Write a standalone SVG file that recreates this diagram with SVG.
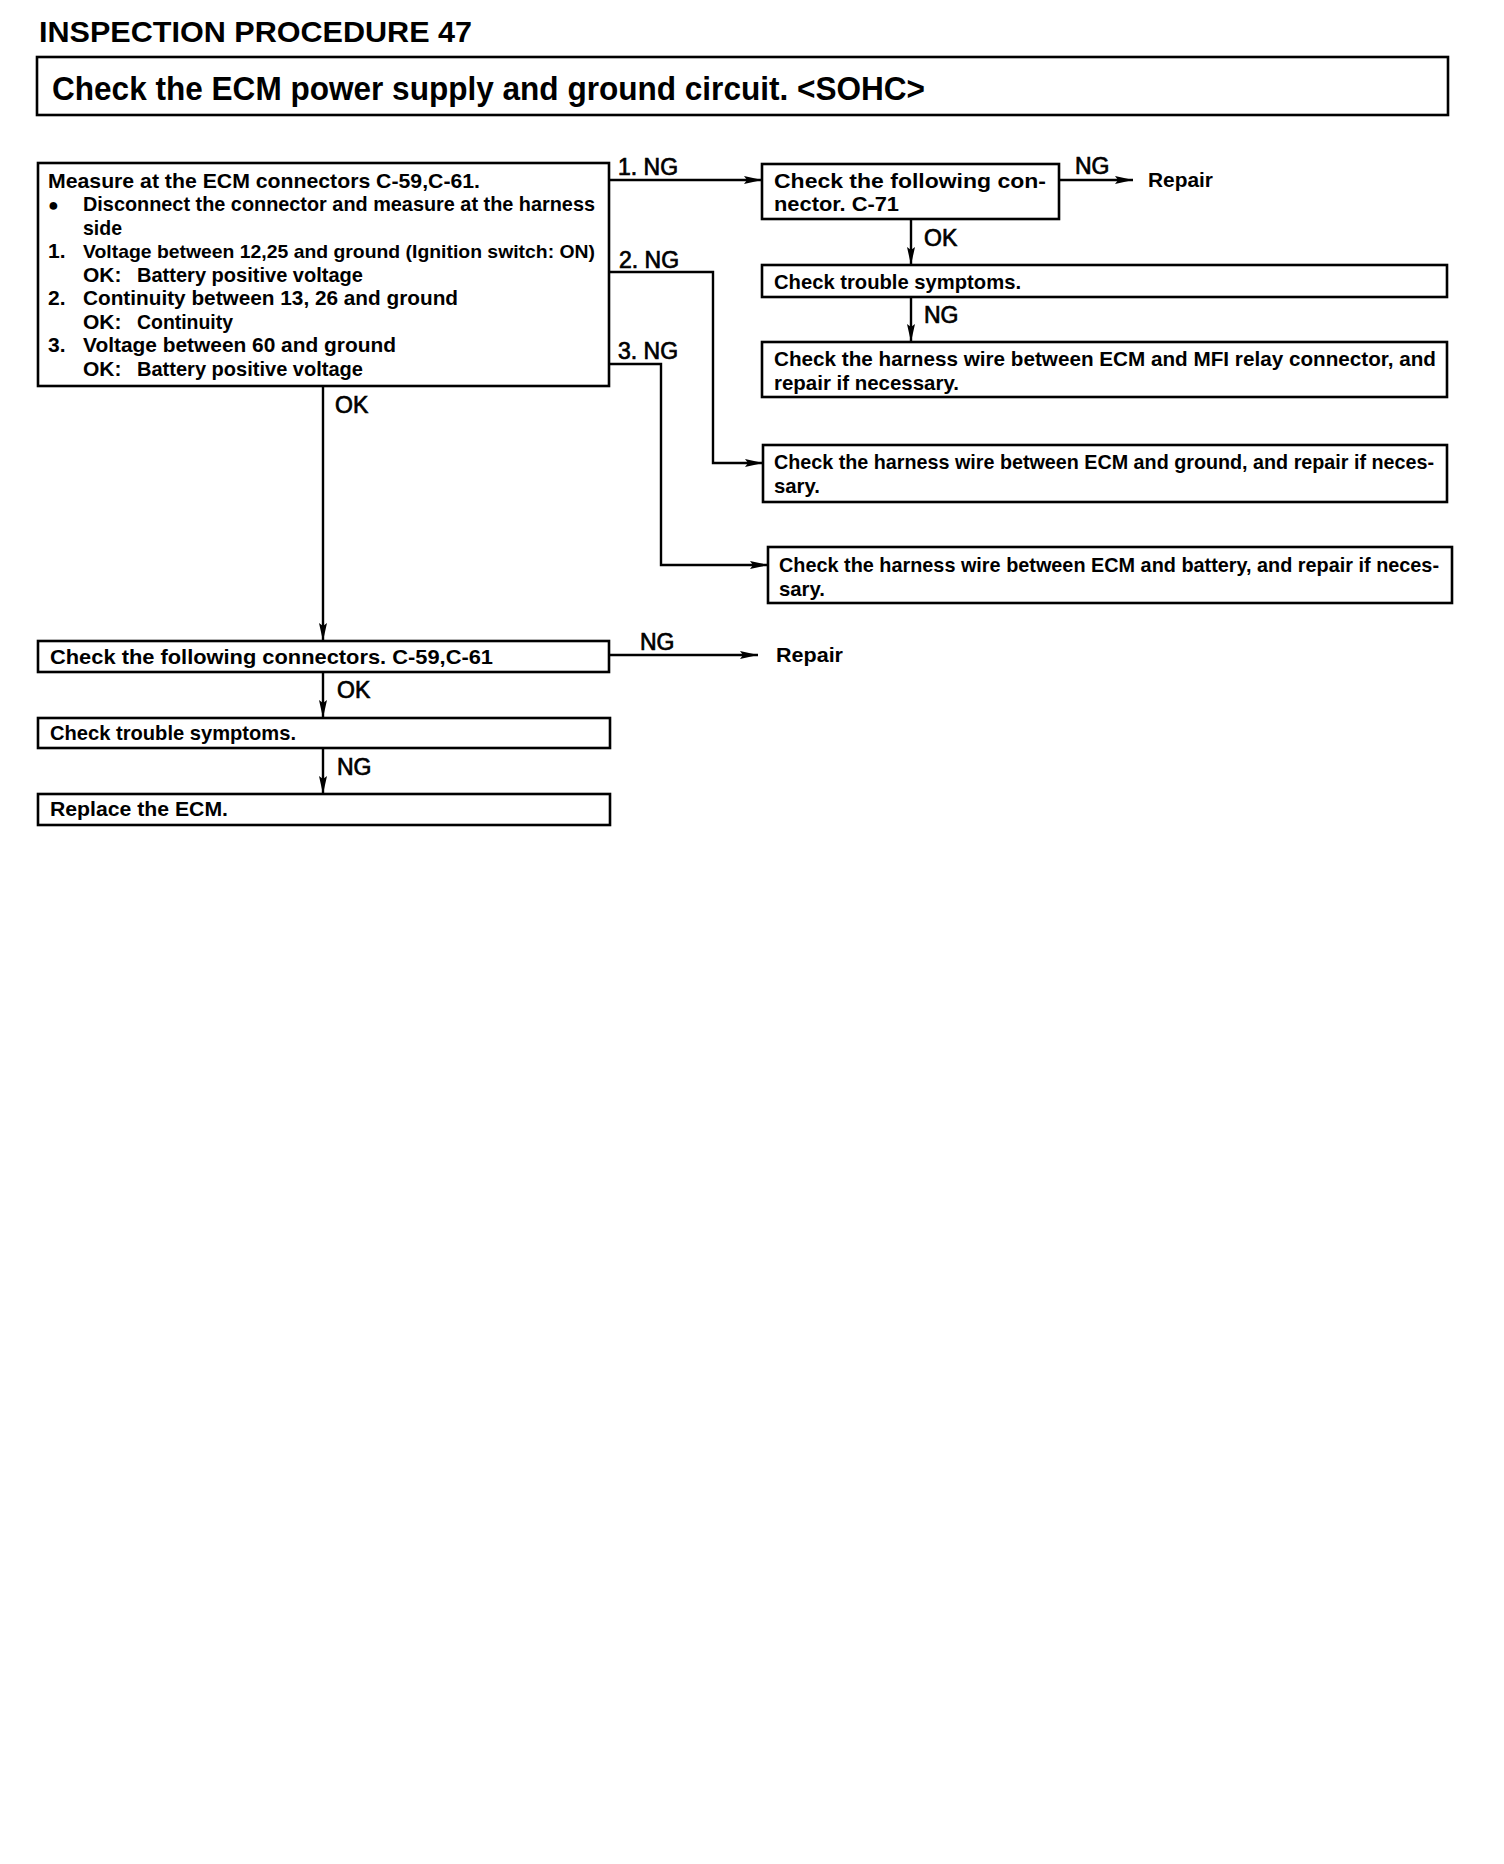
<svg xmlns="http://www.w3.org/2000/svg" width="1504" height="1864" viewBox="0 0 1504 1864">
<style>
  .box { fill: #fff; stroke: #000; stroke-width: 2.6; }
  .t { font-family: "Liberation Sans", Arial, sans-serif; font-size: 21px; font-weight: bold; fill: #000; }
  .lbl { font-family: "Liberation Sans", Arial, sans-serif; font-size: 23px; fill: #000; stroke: #000; stroke-width: 0.7; }
  .title { font-family: "Liberation Sans", Arial, sans-serif; font-size: 30px; font-weight: bold; fill: #000; }
  .head { font-family: "Liberation Sans", Arial, sans-serif; font-size: 33px; font-weight: bold; fill: #000; }
  .conn { fill: none; stroke: #000; stroke-width: 2.4; }
</style>
<defs>
  <marker id="arr" markerUnits="userSpaceOnUse" markerWidth="18" markerHeight="10" refX="18" refY="5" orient="auto">
    <path d="M0,1 L18,5 L0,9 L3,5 Z" fill="#000"/>
  </marker>
</defs>
<rect width="1504" height="1864" fill="#fff"/>

<text class="title" x="39" y="42" textLength="433" lengthAdjust="spacingAndGlyphs">INSPECTION  PROCEDURE  47</text>

<g id="header">
  <rect class="box" x="37" y="57" width="1411" height="58"/>
  <text class="head" x="52" y="100" textLength="873" lengthAdjust="spacingAndGlyphs">Check  the  ECM  power  supply  and  ground  circuit.  &lt;SOHC&gt;</text>
</g>

<g id="connectors">
  <line class="conn" x1="609" y1="180" x2="762" y2="180" marker-end="url(#arr)"/>
  <path class="conn" d="M609,272 H713 V463 H763" marker-end="url(#arr)"/>
  <path class="conn" d="M609,364 H661 V565 H768" marker-end="url(#arr)"/>
  <line class="conn" x1="1059" y1="180" x2="1133" y2="180" marker-end="url(#arr)"/>
  <line class="conn" x1="911" y1="219" x2="911" y2="265" marker-end="url(#arr)"/>
  <line class="conn" x1="911" y1="297" x2="911" y2="342" marker-end="url(#arr)"/>
  <line class="conn" x1="323" y1="386" x2="323" y2="641" marker-end="url(#arr)"/>
  <line class="conn" x1="609" y1="655" x2="758" y2="655" marker-end="url(#arr)"/>
  <line class="conn" x1="323" y1="672" x2="323" y2="718" marker-end="url(#arr)"/>
  <line class="conn" x1="323" y1="748" x2="323" y2="794" marker-end="url(#arr)"/>
  <text class="lbl" x="618" y="175">1. NG</text>
  <text class="lbl" x="619" y="268">2. NG</text>
  <text class="lbl" x="618" y="359">3. NG</text>
  <text class="lbl" x="1075" y="174">NG</text>
  <text class="lbl" x="924" y="246">OK</text>
  <text class="lbl" x="924" y="323">NG</text>
  <text class="lbl" x="335" y="413">OK</text>
  <text class="lbl" x="640" y="650">NG</text>
  <text class="lbl" x="337" y="698">OK</text>
  <text class="lbl" x="337" y="775">NG</text>
</g>

<g id="measure">
  <rect class="box" x="38" y="163" width="571" height="223"/>
  <text class="t" x="48" y="188" textLength="432" lengthAdjust="spacingAndGlyphs">Measure at the ECM connectors C-59,C-61.</text>
  <text class="t" x="48" y="211" style="font-size:18px">●</text>
  <text class="t" x="83" y="211" textLength="512" lengthAdjust="spacingAndGlyphs">Disconnect the connector and measure at the harness</text>
  <text class="t" x="83" y="235" textLength="39" lengthAdjust="spacingAndGlyphs">side</text>
  <text class="t" x="48" y="258">1.</text>
  <text class="t" x="83" y="258" style="font-size:19px" textLength="512" lengthAdjust="spacingAndGlyphs">Voltage between 12,25 and ground (Ignition switch: ON)</text>
  <text class="t" x="83" y="282">OK:</text>
  <text class="t" x="137" y="282" textLength="226" lengthAdjust="spacingAndGlyphs">Battery positive voltage</text>
  <text class="t" x="48" y="305">2.</text>
  <text class="t" x="83" y="305" textLength="375" lengthAdjust="spacingAndGlyphs">Continuity between 13, 26 and ground</text>
  <text class="t" x="83" y="329">OK:</text>
  <text class="t" x="137" y="329" textLength="96" lengthAdjust="spacingAndGlyphs">Continuity</text>
  <text class="t" x="48" y="352">3.</text>
  <text class="t" x="83" y="352" textLength="313" lengthAdjust="spacingAndGlyphs">Voltage between 60 and ground</text>
  <text class="t" x="83" y="376">OK:</text>
  <text class="t" x="137" y="376" textLength="226" lengthAdjust="spacingAndGlyphs">Battery positive voltage</text>
</g>

<g id="check-c71">
  <rect class="box" x="762" y="164" width="297" height="55"/>
  <text class="t" x="774" y="188" textLength="272" lengthAdjust="spacingAndGlyphs">Check  the  following  con-</text>
  <text class="t" x="774" y="211" textLength="125" lengthAdjust="spacingAndGlyphs">nector. C-71</text>
</g>

<g id="repair-1">
  <text class="t" x="1148" y="187" textLength="65" lengthAdjust="spacingAndGlyphs">Repair</text>
</g>

<g id="symptoms-1">
  <rect class="box" x="762" y="265" width="685" height="32"/>
  <text class="t" x="774" y="289" textLength="247" lengthAdjust="spacingAndGlyphs">Check trouble symptoms.</text>
</g>

<g id="harness-mfi">
  <rect class="box" x="762" y="342" width="685" height="55"/>
  <text class="t" x="774" y="366" textLength="662" lengthAdjust="spacingAndGlyphs">Check the harness wire between ECM and MFI relay connector, and</text>
  <text class="t" x="774" y="390" textLength="185" lengthAdjust="spacingAndGlyphs">repair if necessary.</text>
</g>

<g id="harness-ground">
  <rect class="box" x="763" y="445" width="684" height="57"/>
  <text class="t" x="774" y="469" textLength="660" lengthAdjust="spacingAndGlyphs">Check the harness wire between ECM and ground, and repair if neces-</text>
  <text class="t" x="774" y="493" textLength="46" lengthAdjust="spacingAndGlyphs">sary.</text>
</g>

<g id="harness-battery">
  <rect class="box" x="768" y="547" width="684" height="56"/>
  <text class="t" x="779" y="572" textLength="660" lengthAdjust="spacingAndGlyphs">Check the harness wire between ECM and battery, and repair if neces-</text>
  <text class="t" x="779" y="596" textLength="46" lengthAdjust="spacingAndGlyphs">sary.</text>
</g>

<g id="check-c59">
  <rect class="box" x="38" y="641" width="571" height="31"/>
  <text class="t" x="50" y="664" textLength="443" lengthAdjust="spacingAndGlyphs">Check the following connectors. C-59,C-61</text>
</g>

<g id="repair-2">
  <text class="t" x="776" y="662" textLength="67" lengthAdjust="spacingAndGlyphs">Repair</text>
</g>

<g id="symptoms-2">
  <rect class="box" x="38" y="718" width="572" height="30"/>
  <text class="t" x="50" y="740" textLength="246" lengthAdjust="spacingAndGlyphs">Check trouble symptoms.</text>
</g>

<g id="replace-ecm">
  <rect class="box" x="38" y="794" width="572" height="31"/>
  <text class="t" x="50" y="816" textLength="178" lengthAdjust="spacingAndGlyphs">Replace the ECM.</text>
</g>
</svg>
